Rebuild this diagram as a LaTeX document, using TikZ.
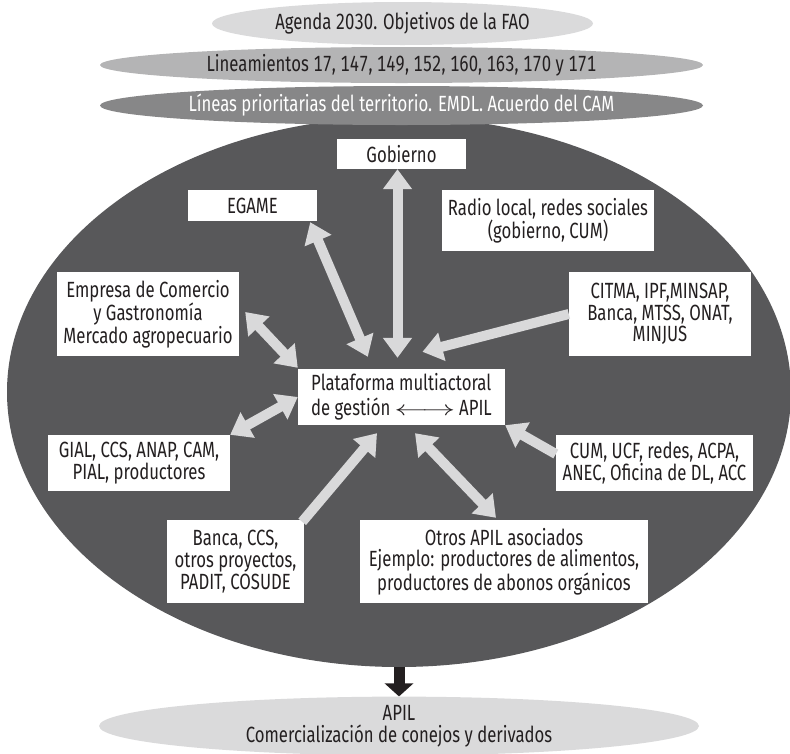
\documentclass[tikz,border=0pt]{standalone}
\usepackage{fontspec}
\usepackage{graphicx}
\setmainfont{Fira Sans}[FakeStretch=0.76,Numbers={Monospaced,Lining}]
\usetikzlibrary{arrows.meta,shapes.geometric,calc}
\definecolor{ink}{HTML}{231F20}
\definecolor{paleband}{HTML}{DADADB}
\definecolor{midband}{HTML}{B4B4B5}
\definecolor{darkband}{HTML}{878788}
\definecolor{core}{HTML}{58585A}
\definecolor{linkgray}{HTML}{D9D9DA}
% long two-way arrow used inside the platform label
\newcommand{\twoway}{\scalebox{1.6}[1]{$\longleftrightarrow$}}
\begin{document}
\begin{tikzpicture}[x=1pt,y=-1pt,
  font=\fontsize{22}{21.7}\selectfont, text=ink,
  band/.style={ellipse, inner sep=0pt},
  actor/.style={fill=white, inner sep=0pt, align=center},
  flow/.style={draw=linkgray, line width=10pt, -{Triangle[length=20pt,width=28pt]}},
  biflow/.style={draw=linkgray, line width=10pt,
    {Triangle[length=20pt,width=28pt]}-{Triangle[length=20pt,width=28pt]}},
  outflow/.style={draw=ink, line width=11pt, -{Triangle[length=13pt,width=28pt]}}]
\useasboundingbox (0,0) rectangle (790,753);

% large field holding all actors
\node[band, fill=core, minimum width=784pt, minimum height=550pt] (amb) at (399,392) {};

% framework bands on top
\node[band, fill=paleband, minimum width=381pt, minimum height=43pt] (agenda) at (402.5,23.5)
  {Agenda 2030. Objetivos de la FAO};
\node[band, fill=midband, minimum width=603pt, minimum height=36pt] (lin) at (401.5,65)
  {Lineamientos 17, 147, 149, 152, 160, 163, 170 y 171};
\node[band, fill=darkband, minimum width=603pt, minimum height=39pt, text=white] (terr) at (401.5,105.5)
  {Líneas prioritarias del territorio. EMDL. Acuerdo del CAM};

% actors
\node[actor, minimum width=129pt, minimum height=30pt] (gob) at (401.5,154) {Gobierno};
\node[actor, minimum width=129pt, minimum height=31pt] (egame) at (252.5,205.5) {EGAME};
\node[actor, minimum width=212pt, minimum height=61pt] (radio) at (548,220.5)
  {Radio local, redes sociales\\(gobierno, CUM)};
\node[actor, minimum width=182pt, minimum height=84pt] (emp) at (148,314)
  {Empresa de Comercio\\y Gastronomía\\Mercado agropecuario};
\node[actor, minimum width=182pt, minimum height=84pt] (citma) at (660,314)
  {CITMA, IPF,MINSAP,\\Banca, MTSS, ONAT,\\MINJUS};
\node[actor, minimum width=207pt, minimum height=56pt, align=left,
      font=\fontsize{22}{24.5}\selectfont] (plat) at (401.5,397)
  {Plataforma multiactoral\\de gestión\hspace{4pt}\twoway\hspace{4pt}APIL};
\node[actor, minimum width=182pt, minimum height=56pt] (gial) at (139,463)
  {GIAL, CCS, ANAP, CAM,\\PIAL, productores};
\node[actor, minimum width=197pt, minimum height=56pt] (cum) at (654.5,463)
  {CUM, UCF, redes, ACPA,\\ANEC, Oficina de DL, ACC};
\node[actor, minimum width=137pt, minimum height=83pt] (banca) at (235.5,561.5)
  {Banca, CCS,\\otros proyectos,\\PADIT, COSUDE};
\node[actor, minimum width=288pt, minimum height=83pt] (otros) at (504,561.5)
  {Otros APIL asociados\\Ejemplo: productores de alimentos,\\productores de abonos orgánicos};

% result band
\node[band, fill=paleband, minimum width=600pt, minimum height=58pt, align=center] (apil) at (399,726)
  {APIL\\Comercialización de conejos y derivados};

% links to the platform
\draw[biflow] ($(gob.south)+(-4,0)$) -- ($(plat.north)+(-4,-11)$);
\draw[biflow] ($(egame.south east)+(-7,1)$) -- ($(plat.north west)+(70,-12)$);
\draw[biflow] ($(emp.east)+(6,-2)$) -- ($(plat.north west)+(0,-1)$);
\draw[flow] (citma.west) -- ($(plat.north)+(21,-17)$);
\draw[biflow] (gial.north east) -- (plat.west);
\draw[flow] ($(banca.north east)+(-2,2)$) -- ($(plat.south)+(-24.5,8)$);
\draw[biflow] ($(plat.south)+(13.5,8)$) -- ($(otros.north)+(-8,-2)$);
\draw[flow] ($(cum.west)+(0,-9)$) -- (plat.south east);

% outcome
\draw[outflow] (amb.south) -- (apil.north);
\end{tikzpicture}
\end{document}
